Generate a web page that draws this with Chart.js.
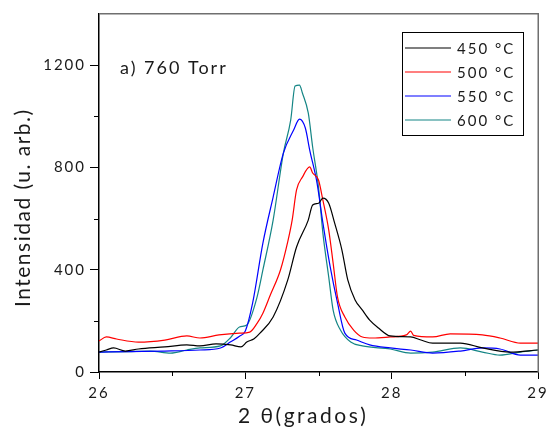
<!DOCTYPE html>
<html>
<head>
<meta charset="utf-8">
<script src="https://cdn.jsdelivr.net/npm/chart.js@4"></script>
<style>
    html, body { margin: 0; padding: 0; background: #fff; }
</style>
</head>
<body>
<canvas id="xrdChart" width="554" height="437"></canvas>
<script>
/* ======================================
   DATA
====================================== */
const seriesLabels = ["450 °C", "500 °C", "550 °C", "600 °C"];

const angle450 = [26.00, 26.05, 26.10, 26.18, 26.27, 26.45, 26.60, 26.69, 26.80, 26.90, 26.97, 27.01, 27.06, 27.10, 27.19, 27.29, 27.35, 27.43, 27.46, 27.50, 27.53, 27.57, 27.61, 27.66, 27.70, 27.75, 27.80, 27.85, 27.91, 27.99, 28.13, 28.20, 28.28, 28.47, 28.62, 28.81, 29.00];
const int450   = [78, 86, 94, 82, 90, 98, 106, 102, 110, 106, 98, 117, 130, 152, 215, 360, 489, 594, 653, 660, 680, 660, 583, 477, 360, 282, 242, 203, 172, 141, 137, 125, 113, 113, 94, 78, 86];

const angle500 = [26.00, 26.05, 26.12, 26.27, 26.45, 26.60, 26.69, 26.82, 26.96, 27.03, 27.08, 27.12, 27.17, 27.24, 27.29, 27.32, 27.35, 27.39, 27.44, 27.46, 27.50, 27.53, 27.57, 27.60, 27.63, 27.68, 27.74, 27.80, 27.87, 27.99, 28.10, 28.13, 28.15, 28.28, 28.40, 28.62, 28.74, 28.88, 29.00];
const int500   = [121, 137, 129, 117, 125, 141, 133, 145, 152, 156, 190, 230, 300, 399, 510, 594, 712, 762, 802, 778, 751, 672, 555, 426, 293, 215, 164, 137, 133, 137, 145, 160, 143, 137, 149, 145, 133, 113, 113];

const angle550 = [26.00, 26.20, 26.45, 26.69, 26.83, 26.90, 26.96, 27.00, 27.05, 27.12, 27.19, 27.26, 27.33, 27.37, 27.41, 27.44, 27.49, 27.53, 27.58, 27.63, 27.68, 27.76, 27.85, 27.99, 28.13, 28.28, 28.47, 28.62, 28.74, 28.88, 29.00];
const int550   = [78, 80, 82, 86, 94, 118, 140, 160, 270, 504, 684, 856, 946, 989, 954, 868, 739, 583, 411, 270, 152, 125, 106, 94, 86, 74, 82, 94, 90, 66, 66];

const angle600 = [26.00, 26.20, 26.35, 26.49, 26.60, 26.69, 26.83, 26.90, 26.96, 27.01, 27.08, 27.12, 27.19, 27.26, 27.31, 27.34, 27.37, 27.39, 27.43, 27.46, 27.50, 27.53, 27.57, 27.60, 27.65, 27.72, 27.80, 27.99, 28.13, 28.28, 28.47, 28.62, 28.74, 28.88, 29.00];
const int600   = [78, 80, 82, 74, 86, 94, 102, 135, 176, 184, 293, 399, 594, 856, 985, 1118, 1122, 1091, 1013, 880, 723, 543, 371, 242, 164, 117, 102, 90, 74, 78, 94, 78, 66, 78, 86];

const xTicks = [26, 27, 28, 29];
const yTicks = [0, 400, 800, 1200];
const xMinorTicks = [26.5, 27.5, 28.5];
const yMinorTicks = [200, 600, 1000];

const panelLabel = "a) 760 Torr";
const xTitle = "2 θ(grados)";
const yTitle = "Intensidad (u. arb.)";

/* ======================================
   STYLE
====================================== */
const lineColors = ["#000000", "#ff0000", "#0000ff", "#148585"];
const FONT = "Lato, 'Open Sans', sans-serif";
const TEXT_COLOR = "#1a1a1a";
const SPACING = "2px";

function toPoints(xs, ys) {
    return xs.map((x, i) => ({ x: x, y: ys[i] }));
}

const allAngles = [angle450, angle500, angle550, angle600];
const allInts = [int450, int500, int550, int600];

const datasets = seriesLabels.map((label, i) => ({
    label: label,
    data: toPoints(allAngles[i], allInts[i]),
    borderColor: lineColors[i],
    backgroundColor: lineColors[i],
    borderWidth: 1.2,
    pointRadius: 0,
    cubicInterpolationMode: "monotone",
    fill: false
}));


/* ======================================
   EXTRAS: frame, minor ticks, titles, label, legend box
====================================== */
const extrasPlugin = {
    id: "extras",
    beforeInit(chart) { chart.ctx.letterSpacing = SPACING; },
    beforeUpdate(chart) { chart.ctx.letterSpacing = SPACING; },
    beforeDraw(chart) { chart.ctx.letterSpacing = SPACING; },
    afterDraw(chart) {
        const { ctx, chartArea: a, scales } = chart;
        ctx.save();

        // top and right frame (grey)
        ctx.fillStyle = "#6f6f6f";
        ctx.fillRect(a.left, a.top - 1, a.right - a.left + 1, 1.5);
        ctx.fillRect(a.right - 0.5, a.top - 1, 1.5, a.bottom - a.top + 1);

        // minor ticks
        ctx.strokeStyle = "#000";
        ctx.lineWidth = 1;
        ctx.beginPath();
        yMinorTicks.forEach(v => {
            const y = Math.round(scales.y.getPixelForValue(v)) + 0.5;
            ctx.moveTo(a.left - 5, y);
            ctx.lineTo(a.left, y);
        });
        xMinorTicks.forEach(v => {
            const x = Math.round(scales.x.getPixelForValue(v)) + 0.5;
            ctx.moveTo(x, a.bottom);
            ctx.lineTo(x, a.bottom + 4);
        });
        ctx.stroke();

        ctx.fillStyle = TEXT_COLOR;
        ctx.textBaseline = "middle";
        ctx.textAlign = "left";

        // axis titles
        ctx.font = "21px " + FONT;
        ctx.letterSpacing = "2.5px";
        ctx.fillText(xTitle, 238, 416);

        ctx.save();
        ctx.translate(23, 307);
        ctx.rotate(-Math.PI / 2);
        ctx.letterSpacing = "1.5px";
        ctx.font = "21px " + FONT;
        ctx.fillText(yTitle, 0, 0);
        ctx.restore();

        // panel label
        ctx.letterSpacing = SPACING;
        ctx.font = "18px " + FONT;
        ctx.fillText(panelLabel, 120, 68);

        // legend box
        ctx.strokeStyle = "#000";
        ctx.lineWidth = 1;
        ctx.strokeRect(402.5, 32.5, 121, 103);
        ctx.font = "15px " + FONT;
        seriesLabels.forEach((label, i) => {
            const y = 48 + i * 24;
            ctx.strokeStyle = lineColors[i];
            ctx.lineWidth = 1.2;
            ctx.beginPath();
            ctx.moveTo(405, y);
            ctx.lineTo(451, y);
            ctx.stroke();
            ctx.fillStyle = TEXT_COLOR;
            ctx.fillText(label, 457, y + 1);
        });

        ctx.restore();
    }
};


/* ======================================
   CHART
====================================== */
const ctx = document.getElementById("xrdChart").getContext("2d");

new Chart(ctx, {
    type: "line",
    data: { datasets },
    options: {
        responsive: false,
        animation: false,
        devicePixelRatio: 1,
        layout: { padding: { left: 0, right: 16, top: 14, bottom: 0 } },
        plugins: {
            legend: { display: false },
            tooltip: { enabled: false }
        },
        scales: {
            x: {
                type: "linear",
                min: 26,
                max: 29,
                afterFit: scale => { scale.height = 65; },
                afterBuildTicks: scale => { scale.ticks = xTicks.map(v => ({ value: v })); },
                border: { color: "#000", width: 1.5 },
                grid: { drawOnChartArea: false, tickLength: 7, tickColor: "#000" },
                ticks: {
                    color: TEXT_COLOR,
                    font: { family: FONT, size: 15 },
                    padding: 5,
                    maxRotation: 0,
                    autoSkip: false,
                    callback: v => String(v)
                }
            },
            y: {
                min: 0,
                max: 1400,
                afterFit: scale => { scale.width = 99; },
                afterBuildTicks: scale => { scale.ticks = yTicks.map(v => ({ value: v })); },
                border: { color: "#000", width: 1.5 },
                grid: { drawOnChartArea: false, tickLength: 9, tickColor: "#000" },
                ticks: {
                    color: TEXT_COLOR,
                    font: { family: FONT, size: 15 },
                    padding: 4,
                    autoSkip: false,
                    callback: v => String(v)
                }
            }
        }
    },
    plugins: [extrasPlugin]
});
</script>
</body>
</html>
